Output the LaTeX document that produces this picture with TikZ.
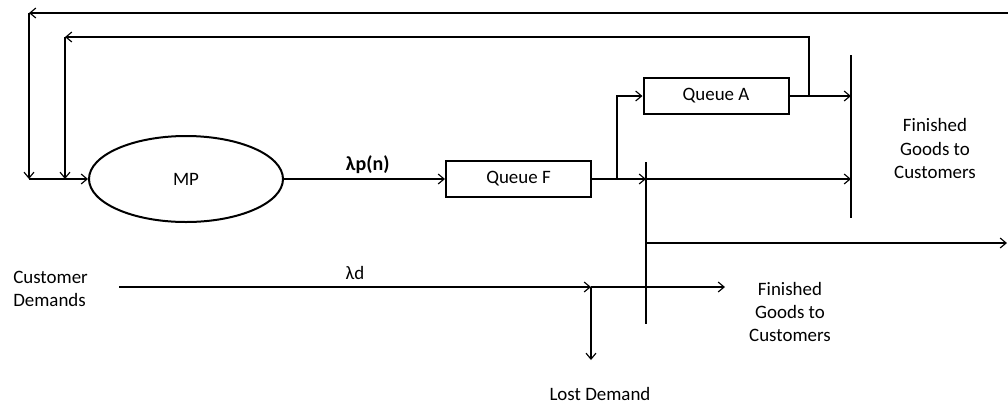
\documentclass[tikz,border=0pt]{standalone}
\usepackage{fontspec}
\setmainfont{Carlito}
\usetikzlibrary{arrows.meta,shapes.geometric}

\begin{document}
\begin{tikzpicture}[x=0.75pt,y=-0.75pt,
  every node/.style={font=\fontsize{14.2}{17.3}\selectfont},
  flow/.style={line width=0.85pt,-{Straight Barb[length=4.5pt,width=7.5pt]}},
  link/.style={line width=0.85pt},
  queuebox/.style={draw,line width=1.5pt,rectangle,minimum width=108.75pt,minimum height=27pt,inner sep=0pt},
  procnode/.style={draw,line width=1.5pt,ellipse,minimum width=145.5pt,minimum height=64.5pt,inner sep=0pt},
  splitbar/.style={line width=2.2pt},
  caption/.style={align=center,inner sep=0pt}
]
\useasboundingbox (0,0) rectangle (1008,405);

% main process and queues
\node[procnode] (mp) at (186,179) {MP};
\node[queuebox] (qf) at (518.5,179) {Queue F};
\node[queuebox] (qa) at (716,96) {Queue A};

% split bars
\coordinate (b1top) at (851,55);
\coordinate (b1bot) at (851,218);
\coordinate (b2top) at (646,162);
\coordinate (b2bot) at (646,324);
\draw[splitbar] (b1top) -- (b1bot);
\draw[splitbar] (b2top) -- (b2bot);

% feedback loops into MP
\coordinate (o1) at (1008,13);
\coordinate (o2) at (29,13);
\coordinate (o3) at (29,179);
\coordinate (ja) at (809,96);
\coordinate (i2) at (65,37);
\coordinate (i3) at (65,179);
\draw[flow] (o1) -- (o2);
\draw[flow] (o2) -- (o3);
\draw[flow] (ja) |- (i2);
\draw[flow] (i2) -- (i3);
\draw[flow] (o3) -- (mp.west);

% MP to Queue F
\draw[flow] (mp.east) -- (qf.west) node[pos=0.52,above=0.5pt,font=\fontsize{15}{18}\selectfont\bfseries] (lp) {λp(n)};

% Queue F outputs
\coordinate (jf) at (617,179);
\coordinate (b2m) at (646,179);
\coordinate (b1m) at (851,179);
\coordinate (b1a) at (851,96);
\draw[link] (qf.east) -- (jf);
\draw[flow] (jf) -- (b2m);
\draw[flow] (b2m) -- (b1m);
\draw[flow] (jf) |- (qa.west);
\draw[flow] (qa.east) -- (b1a);

% lower output of bar
\coordinate (b2l) at (646,243);
\coordinate (outr) at (1007,243);
\draw[flow] (b2l) -- (outr);

% customer demand stream
\node[anchor=west,align=left,inner sep=0pt] (cd) at (13,289) {Customer\\Demands};
\coordinate (ds) at (119,287);
\coordinate (jl) at (591,287);
\coordinate (de) at (725,287);
\coordinate (ld) at (591,360);
\draw[flow] (ds) -- (jl) node[midway,above=2pt] (ldl) {λd};
\draw[flow] (jl) -- (de);
\draw[flow] (jl) -- (ld);

% captions
\node[caption] (fg1) at (935,148.5) {Finished\\Goods to\\Customers};
\node[caption] (fg2) at (790,312) {Finished\\Goods to\\Customers};
\node[caption] (lost) at (600,394) {Lost Demand};
\end{tikzpicture}
\end{document}
